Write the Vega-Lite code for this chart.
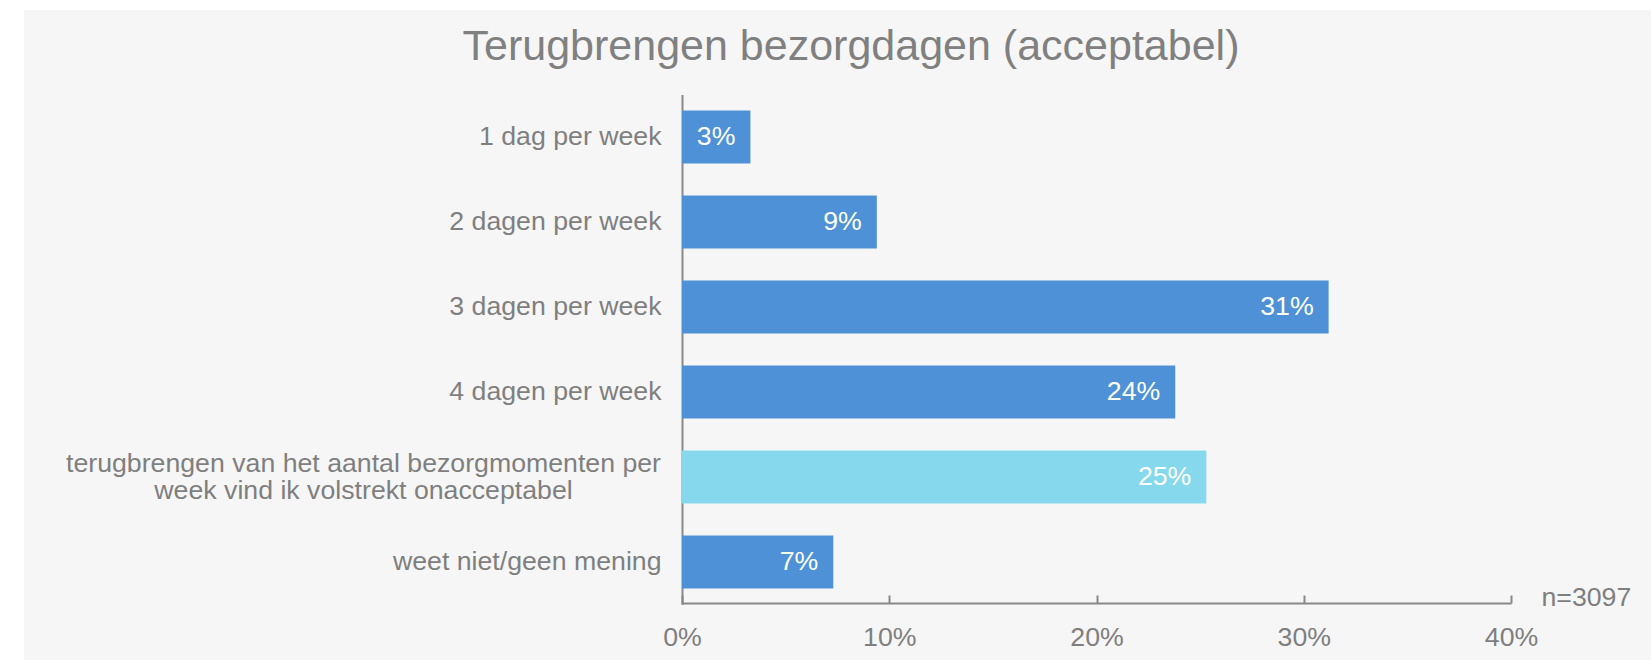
{
  "$schema": "https://vega.github.io/schema/vega-lite/v6.json",
  "autosize": {"type": "none"},
  "width": 1627,
  "height": 650,
  "padding": {"left": 24, "top": 10, "right": 0, "bottom": 0},
  "background": "#ffffff",
  "title": {
    "text": "Terugbrengen bezorgdagen (acceptabel)",
    "anchor": "middle",
    "frame": "group",
    "fontSize": 43,
    "fontWeight": "normal",
    "color": "#808080",
    "font": "Liberation Sans",
    "baseline": "alphabetic",
    "offset": -93,
    "dx": 13.5
  },
  "data": {
    "values": [
      {"categorie": "1 dag per week", "aandeel": 0.033},
      {"categorie": "2 dagen per week", "aandeel": 0.094},
      {"categorie": "3 dagen per week", "aandeel": 0.312},
      {"categorie": "4 dagen per week", "aandeel": 0.238},
      {"categorie": "terugbrengen van het aantal bezorgmomenten per week vind ik volstrekt onacceptabel", "aandeel": 0.253},
      {"categorie": "weet niet/geen mening", "aandeel": 0.073}
    ]
  },
  "encoding": {
    "y": {
      "field": "categorie",
      "type": "nominal",
      "sort": null,
      "scale": {"range": [84.5, 594.5], "paddingInner": 0.376, "paddingOuter": 0.188},
      "axis": {
        "orient": "left",
        "title": null,
        "offset": -658,
        "labelPadding": {"condition": {"test": "datum.value == 'terugbrengen van het aantal bezorgmomenten per week vind ik volstrekt onacceptabel'", "value": 319}, "value": 21},
        "labelAlign": {"condition": {"test": "datum.value == 'terugbrengen van het aantal bezorgmomenten per week vind ik volstrekt onacceptabel'", "value": "center"}, "value": "right"},
        "labelOffset": {"condition": {"test": "datum.value == 'terugbrengen van het aantal bezorgmomenten per week vind ik volstrekt onacceptabel'", "value": -13.5}, "value": 0},
        "ticks": false,
        "domain": true,
        "domainColor": "#888888",
        "domainWidth": 2,
        "labelFont": "Liberation Sans",
        "labelFontSize": 26.7,
        "labelColor": "#7f7f7f",
        "labelLimit": 0,
        "labelLineHeight": 27.5,
        "labelExpr": "datum.value == 'terugbrengen van het aantal bezorgmomenten per week vind ik volstrekt onacceptabel' ? ['terugbrengen van het aantal bezorgmomenten per', 'week vind ik volstrekt onacceptabel'] : datum.label"
      }
    },
    "x": {
      "field": "aandeel",
      "type": "quantitative",
      "scale": {"domain": [0, 0.4], "range": [658, 1487], "nice": false},
      "axis": {
        "orient": "bottom",
        "offset": -57,
        "format": ".0%",
        "values": [0, 0.1, 0.2, 0.3, 0.4],
        "grid": false,
        "tickSize": -8,
        "tickWidth": 2,
        "tickColor": "#888888",
        "domainColor": "#888888",
        "domainWidth": 2,
        "labelPadding": 29,
        "labelFlush": false,
        "labelOverlap": false,
        "labelBound": false,
        "labelFont": "Liberation Sans",
        "labelFontSize": 26.7,
        "labelColor": "#7f7f7f",
        "title": "n=3097",
        "titleX": 1517,
        "titleY": -6,
        "titleAlign": "left",
        "titleBaseline": "middle",
        "titleAnchor": null,
        "titleFont": "Liberation Sans",
        "titleFontSize": 26.7,
        "titleFontWeight": "normal",
        "titleColor": "#7f7f7f"
      }
    }
  },
  "layer": [
    {
      "mark": {"type": "bar"},
      "encoding": {
        "x2": {"datum": 0},
        "color": {
          "condition": {"test": "datum.categorie == 'terugbrengen van het aantal bezorgmomenten per week vind ik volstrekt onacceptabel'", "value": "#86d9ed"},
          "value": "#4e91d7"
        }
      }
    },
    {
      "mark": {"type": "text", "align": "right", "baseline": "middle", "dx": -15, "color": "#ffffff", "font": "Liberation Sans", "fontSize": 26.7},
      "encoding": {
        "text": {"field": "aandeel", "type": "quantitative", "format": ".0%"}
      }
    }
  ],
  "config": {
    "view": {"fill": "#f6f6f6", "stroke": null},
    "font": "Liberation Sans"
  }
}
